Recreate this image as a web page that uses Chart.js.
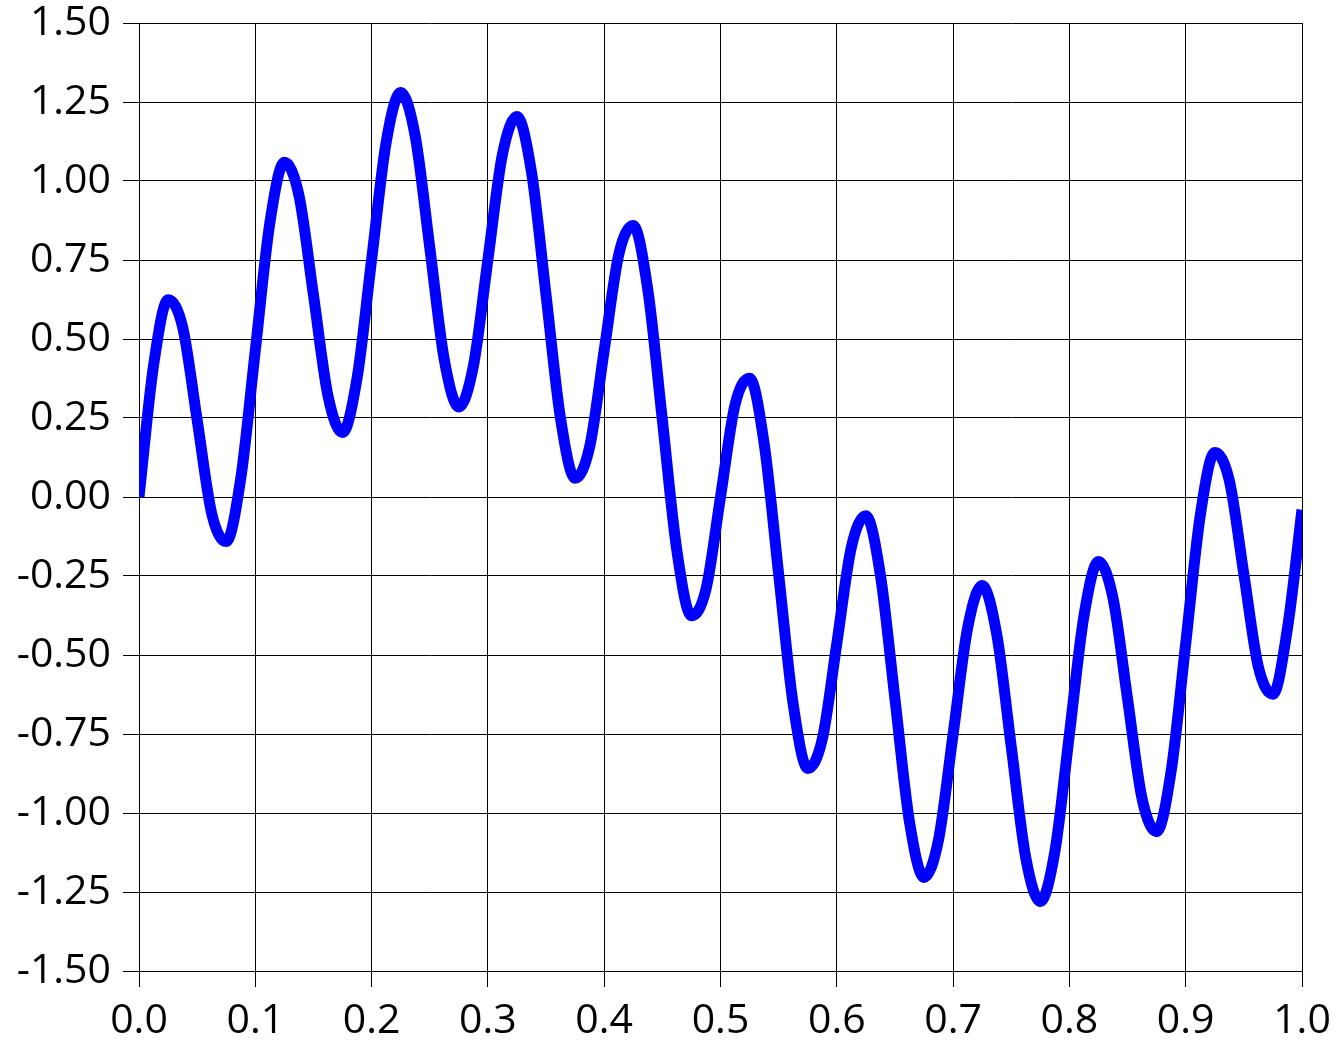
<!DOCTYPE html>
<html>
<head>
<meta charset="utf-8">
<script src="https://cdn.jsdelivr.net/npm/chart.js@4.4.1/dist/chart.umd.min.js"></script>
<style>
  body { margin: 0; background: #fff; }
  #SignalChart { display: block; }
</style>
</head>
<body>
<canvas id="SignalChart" width="1336" height="1045"></canvas>
<script>
// values, every 0.0125 on x
var xValues = [
  0.0, 0.0125, 0.025, 0.0375, 0.05, 0.0625, 0.075, 0.0875,
  0.1, 0.1125, 0.125, 0.1375, 0.15, 0.1625, 0.175, 0.1875,
  0.2, 0.2125, 0.225, 0.2375, 0.25, 0.2625, 0.275, 0.2875,
  0.3, 0.3125, 0.325, 0.3375, 0.35, 0.3625, 0.375, 0.3875,
  0.4, 0.4125, 0.425, 0.4375, 0.45, 0.4625, 0.475, 0.4875,
  0.5, 0.5125, 0.525, 0.5375, 0.55, 0.5625, 0.575, 0.5875,
  0.6, 0.6125, 0.625, 0.6375, 0.65, 0.6625, 0.675, 0.6875,
  0.7, 0.7125, 0.725, 0.7375, 0.75, 0.7625, 0.775, 0.7875,
  0.8, 0.8125, 0.825, 0.8375, 0.85, 0.8625, 0.875, 0.8875,
  0.9, 0.9125, 0.925, 0.9375, 0.95, 0.9625, 0.975, 0.9875,
  1.0
];

var yValues = [
  0.0, 0.416, 0.624, 0.538, 0.244, -0.052, -0.141, 0.059,
  0.464, 0.867, 1.059, 0.955, 0.639, 0.320, 0.204, 0.376,
  0.751, 1.122, 1.280, 1.142, 0.790, 0.434, 0.285, 0.414,
  0.751, 1.084, 1.204, 1.028, 0.639, 0.247, 0.059, 0.159,
  0.464, 0.767, 0.859, 0.656, 0.244, -0.170, -0.376, -0.292,
  0.0, 0.292, 0.376, 0.170, -0.244, -0.656, -0.859, -0.767,
  -0.464, -0.159, -0.059, -0.247, -0.639, -1.028, -1.204, -1.084,
  -0.751, -0.414, -0.280, -0.434, -0.790, -1.142, -1.280, -1.122,
  -0.751, -0.376, -0.204, -0.320, -0.639, -0.955, -1.059, -0.867,
  -0.464, -0.059, 0.141, 0.052, -0.244, -0.538, -0.624, -0.416,
  -0.04
];

var xTicks = { min: 0, max: 1, step: 0.1, digits: 1 };
var yTicks = { min: -1.5, max: 1.5, step: 0.25, digits: 2 };

var points = xValues.map(function (x, i) {
  return { x: x, y: yValues[i] };
});

var tickFont = { family: "'Open Sans', 'Noto Sans', sans-serif", size: 41, lineHeight: 1.1 };
var gridStyle = { color: '#000', lineWidth: 1, tickLength: 16, tickColor: '#000' };

var ctx = document.getElementById('SignalChart').getContext('2d');
var SignalChart = new Chart(ctx, {
  type: 'line',
  data: {
    datasets: [{
      data: points,
      borderColor: '#0000ff',
      borderWidth: 11,
      borderCapStyle: 'butt',
      pointRadius: 0,
      fill: false,
      cubicInterpolationMode: 'monotone'
    }]
  },
  options: {
    responsive: false,
    animation: false,
    layout: { padding: 0 },
    plugins: { legend: { display: false }, tooltip: { enabled: false } },
    scales: {
      x: {
        type: 'linear',
        min: xTicks.min,
        max: xTicks.max,
        grid: gridStyle,
        border: { color: '#000', width: 1 },
        ticks: {
          stepSize: xTicks.step,
          color: '#000',
          font: tickFont,
          padding: 12,
          maxRotation: 0,
          autoSkip: false,
          callback: function (v) { return Number(v).toFixed(xTicks.digits); }
        },
        afterFit: function (s) {
          s.height = 74;
          s.paddingLeft = 0;
          s.paddingRight = 34;
        }
      },
      y: {
        type: 'linear',
        min: yTicks.min,
        max: yTicks.max,
        grid: gridStyle,
        border: { color: '#000', width: 1 },
        ticks: {
          stepSize: yTicks.step,
          color: '#000',
          font: tickFont,
          padding: 12,
          autoSkip: false,
          callback: function (v) { return Number(v).toFixed(yTicks.digits); }
        },
        afterFit: function (s) {
          s.width = 139;
          s.paddingTop = 23;
          s.paddingBottom = 0;
        }
      }
    }
  }
});
</script>
</body>
</html>
